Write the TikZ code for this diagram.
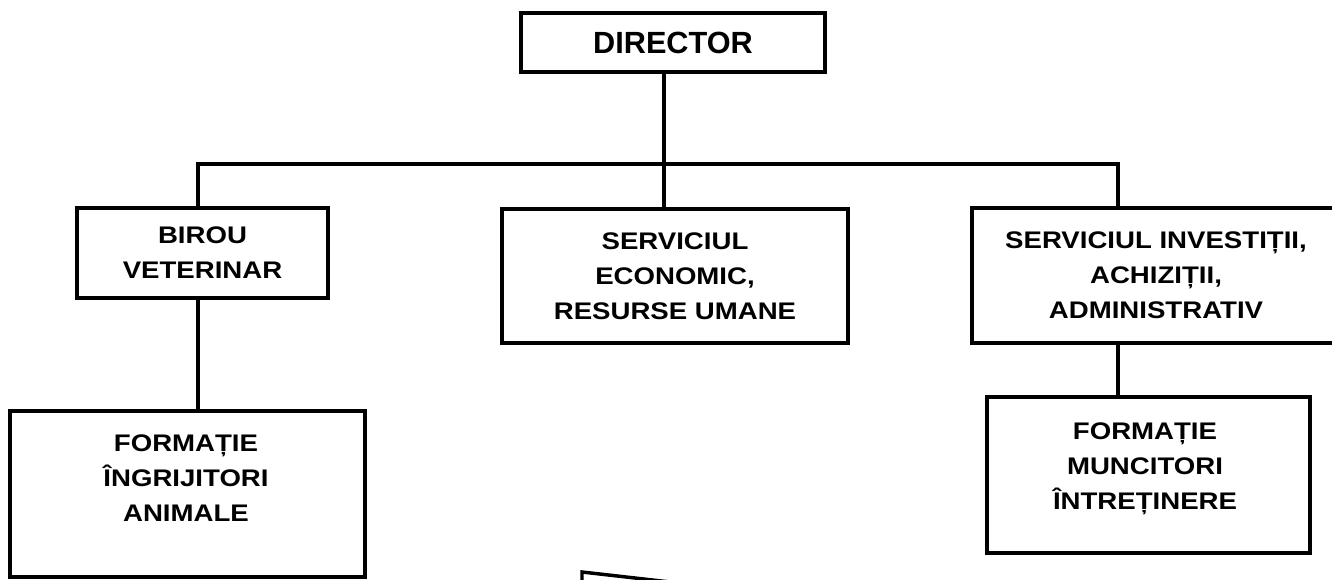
\documentclass[tikz,border=0pt]{standalone}
\usepackage{fontspec}
\setmainfont{Liberation Sans}
\newfontfamily\widefont[FakeStretch=1.15]{Liberation Sans}

\tikzset{
  box/.style={draw, line width=2.6pt, inner sep=0pt, align=center},
  boxtext/.style={align=center, font=\widefont\bfseries\fontsize{18}{26.25}\selectfont},
  link/.style={line width=2.5pt}
}

\begin{document}
\begin{tikzpicture}[x=0.75pt, y=-0.75pt]

    \useasboundingbox (0,0) rectangle (1332,580);
    \clip (0,0) rectangle (1332,580);

    % Draw boxes
    \node[box, minimum width=228pt, minimum height=44.25pt, font=\bfseries\fontsize{23}{28}\selectfont] (dir) at (673,42.5) {DIRECTOR};

    \node[box, boxtext, minimum width=188.25pt, minimum height=67.5pt] (vet) at (202.5,253) {BIROU\\VETERINAR};
    \node[box, boxtext, minimum width=259.5pt, minimum height=100.5pt] (eco) at (675,276) {SERVICIUL\\ECONOMIC,\\RESURSE UMANE};
    \node[box, boxtext, minimum width=276pt, minimum height=101.25pt] (inv) at (1156,275.5) {SERVICIUL INVESTIȚII,\\ACHIZIȚII,\\ADMINISTRATIV};

    \node[box, minimum width=266.25pt, minimum height=124.5pt] (ingr) at (187.5,494) {};
    \node[boxtext] (ingrtext) at (186,478) {FORMAȚIE\\ÎNGRIJITORI\\ANIMALE};

    \node[box, minimum width=242.25pt, minimum height=117pt] (munc) at (1148.5,475) {};
    \node[boxtext] (munctext) at (1145,469) {FORMAȚIE\\MUNCITORI\\ÎNTREȚINERE};

    % Draw connectors
    \coordinate (mid) at (664,164);
    \coordinate (left) at (198,164);
    \coordinate (right) at (1118,164);

    \draw[link] (dir.south -| mid) -- (eco.north -| mid);
    \draw[link] (vet.north -| left) -- (left) -- (right) -- (inv.north -| right);
    \draw[link] (vet.south -| left) -- (ingr.north -| left);
    \draw[link] (inv.south -| right) -- (munc.north -| right);

    % cut-off box at the bottom
    \draw[line width=2.6pt] (582,590) -- (582,572) -- (670,582);

\end{tikzpicture}
\end{document}
